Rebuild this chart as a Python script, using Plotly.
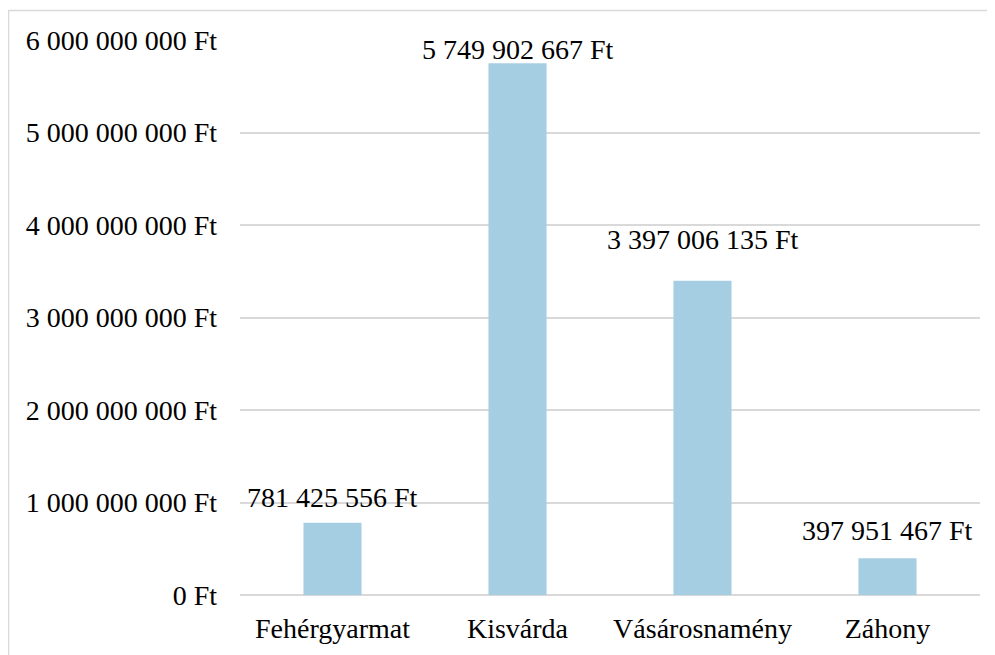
import plotly.graph_objects as go

categories = ["Fehérgyarmat", "Kisvárda", "Vásárosnamény", "Záhony"]
values = [781425556, 5749902667, 3397006135, 397951467]
y_ticks = [0, 1000000000, 2000000000, 3000000000, 4000000000, 5000000000, 6000000000]

FONT = "Liberation Serif"
BAR = "#a6cee2"
GRID = "#d9d9d9"

# page body adds an 8px offset; compensate so the plot lands where the reference has it
OFF = 8
W, H = 995, 655
PW, PH = 740, 555
ML, MT = 240 - OFF, 40 - OFF
MR, MB = W - ML - PW, H - MT - PH

def fmt(v):
    return f"{int(v):,}".replace(",", " ") + " Ft"

fig = go.Figure(go.Bar(
    x=categories, y=values, marker=dict(color=BAR, line=dict(width=0)),
    hoverinfo="skip",
))

label_shift = [8, -4, 24, 10]
annotations = []
for c, v, s in zip(categories, values, label_shift):
    annotations.append(dict(
        x=c, y=v, xref="x", yref="y", text=fmt(v), showarrow=False,
        yanchor="bottom", yshift=s, font=dict(family=FONT, size=28, color="#000000"),
    ))

def px2x(px):
    return (px - OFF - ML) / PW

def py2y(py):
    return (MT + PH - (py - OFF)) / PH

shapes = [
    dict(type="line", xref="paper", yref="paper", x0=px2x(8.5), x1=px2x(8.5),
         y0=py2y(10), y1=py2y(H + 20), line=dict(color=GRID, width=1.5)),
    dict(type="line", xref="paper", yref="paper", x0=px2x(8.5), x1=px2x(W + 20),
         y0=py2y(10.5), y1=py2y(10.5), line=dict(color=GRID, width=1.5)),
]

fig.update_layout(
    width=W, height=H, margin=dict(l=ML, r=MR, t=MT, b=MB, autoexpand=False),
    paper_bgcolor="white", plot_bgcolor="white",
    bargap=0.686,
    showlegend=False,
    font=dict(family=FONT, size=28, color="#000000"),
    annotations=annotations,
    shapes=shapes,
    xaxis=dict(showgrid=False, showline=False, zeroline=False, ticks="", automargin=False,
               tickfont=dict(family=FONT, size=28), ticklabelstandoff=14),
    yaxis=dict(range=[0, 6e9], tickmode="array", tickvals=y_ticks,
               ticktext=[fmt(t) for t in y_ticks], automargin=False,
               showgrid=True, gridcolor=GRID, gridwidth=1.5,
               zeroline=True, zerolinecolor=GRID, zerolinewidth=1.5,
               showline=False, ticks="", ticklabelstandoff=22,
               tickfont=dict(family=FONT, size=28)),
)

fig.write_html("out.html")
